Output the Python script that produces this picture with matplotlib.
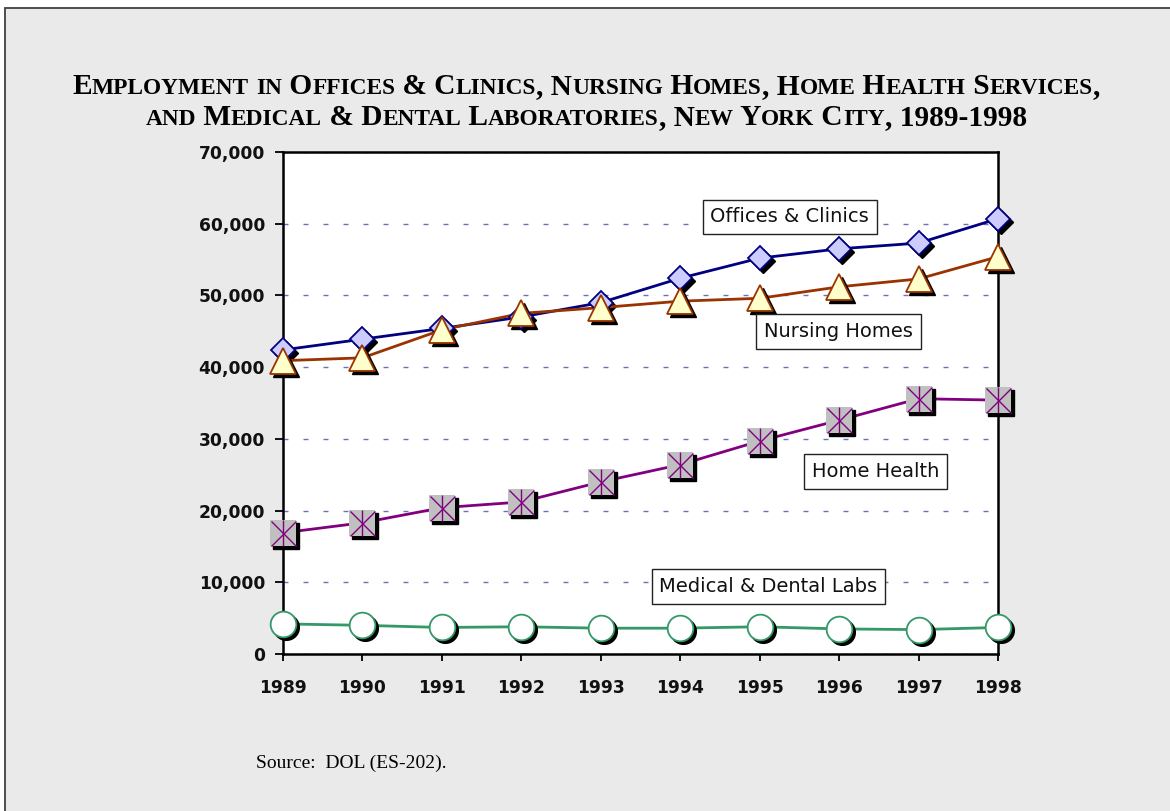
import numpy as np
import matplotlib
matplotlib.use("Agg")
import matplotlib.pyplot as plt
from matplotlib.patches import Rectangle
from matplotlib.transforms import offset_copy
from matplotlib.ticker import FuncFormatter

# data (employment, NYC)
years = [1989, 1990, 1991, 1992, 1993, 1994, 1995, 1996, 1997, 1998]
offices = [42400, 43900, 45400, 47000, 49000, 52400, 55200, 56500, 57300, 60700]
nursing = [40900, 41300, 45200, 47500, 48300, 49200, 49600, 51200, 52300, 55400]
home_health = [16900, 18300, 20400, 21200, 24000, 26400, 29700, 32600, 35600, 35400]
labs = [4200, 4000, 3700, 3800, 3600, 3600, 3800, 3500, 3400, 3700]

labels = ["Offices & Clinics", "Nursing Homes", "Home Health", "Medical & Dental Labs"]
title1 = "Employment in Offices & Clinics, Nursing Homes, Home Health Services,"
title2 = "and Medical & Dental Laboratories, New York City, 1989-1998"
source = "Source:  DOL (ES-202)."

W, H = 1170, 811
fig = plt.figure(figsize=(W / 100, H / 100), dpi=100)
fig.patch.set_facecolor("white")
# grey panel with dark border (cut off at right/bottom)
fig.patches.append(Rectangle((5 / W, -0.05), 1.2, 1 - 8 / H + 0.05, transform=fig.transFigure,
                             facecolor="#EAEAEA", edgecolor="#404040", lw=1.3, zorder=-10))

ax = fig.add_axes([283 / W, 1 - 654 / H, (998 - 283) / W, (654 - 152) / H])
ax.set_facecolor("white")
ax.set_xlim(1989, 1998)
ax.set_ylim(0, 70000)
ax.set_xticks(years)
ax.set_yticks(np.arange(0, 70001, 10000))
ax.yaxis.set_major_formatter(FuncFormatter(lambda v, p: "{:,}".format(int(v))))
for sp in ax.spines.values():
    sp.set_linewidth(1.8)
    sp.set_color("black")
    sp.set_zorder(3)
ax.tick_params(axis="y", direction="out", length=6, width=1.3, pad=7, labelsize=12.3)
ax.tick_params(axis="x", direction="out", length=5, width=1.3, pad=13, labelsize=12.3)
for lab in ax.get_xticklabels() + ax.get_yticklabels():
    lab.set_fontweight("bold")
    lab.set_color("#111111")
ax.grid(axis="y", color="#7070B8", lw=1.0, linestyle=(0, (3.6, 10.8)), zorder=0)
ax.set_axisbelow(True)

shadow = offset_copy(ax.transData, fig=fig, x=3, y=-3, units="dots")


def series(y, color, marker, ms, face, mew=1.3):
    ax.plot(years, y, color=color, lw=2.0, zorder=4, clip_on=False)
    ax.plot(years, y, ls="none", marker=marker, ms=ms, mfc="black", mec="black",
            transform=shadow, zorder=4, clip_on=False)
    ax.plot(years, y, ls="none", marker=marker, ms=ms, mfc=face, mec=color, mew=mew,
            zorder=5, clip_on=False)


series(offices, "#000080", "D", 12.5, "#CCCCFF")
series(nursing, "#993300", "^", 19, "#FFFFCC")
series(home_health, "#800080", "s", 18.5, "#C0C0C0", mew=0)
ax.plot(years, home_health, ls="none", marker="x", ms=18, mec="#800080", mew=1.0, zorder=6, clip_on=False)
ax.plot(years, home_health, ls="none", marker="|", ms=18.5, mec="#800080", mew=1.0, zorder=6, clip_on=False)
series(labs, "#339966", "o", 18.5, "white")

# label boxes
box = dict(boxstyle="square,pad=0.4", fc="white", ec="#222222", lw=1.0)
label_pos = [(1995.38, 60950), (1995.99, 44980), (1996.46, 25450), (1995.11, 9410)]
for txt, (lx, ly) in zip(labels, label_pos):
    ax.text(lx, ly, txt, ha="center", va="center", fontsize=14, color="#111111",
            bbox=box, zorder=7)


# small caps title built from runs of two sizes
def smallcaps(s, y_px, big=21.2, small=16.8):
    runs = []
    for ch in s:
        if ch.isalpha() and ch.islower():
            key, c = small, ch.upper()
        else:
            key, c = big, ch
        if runs and runs[-1][1] == key:
            runs[-1][0] += c
        else:
            runs.append([c, key])
    r = fig.canvas.get_renderer()
    texts = [fig.text(0, 0, t, fontsize=k, fontweight="bold", family="Liberation Serif",
                      ha="left", va="baseline") for t, k in runs]
    widths = [t.get_window_extent(r).width for t in texts]
    x = 586 - sum(widths) / 2
    for t, w in zip(texts, widths):
        t.set_position((x / W, 1 - y_px / H))
        x += w


smallcaps(title1, 94)
smallcaps(title2, 125)

fig.text(256 / W, 1 - 768 / H, source, fontsize=14, family="Liberation Serif",
         ha="left", va="baseline")

fig.savefig("out.png", dpi=100)
